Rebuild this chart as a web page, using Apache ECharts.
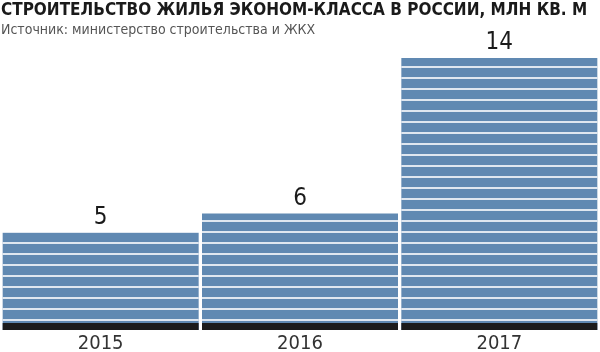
<!DOCTYPE html>
<html lang="ru">
<head>
    <meta charset="utf-8">
    <title>Строительство жилья эконом-класса</title>
    <script src="https://cdn.jsdelivr.net/npm/echarts@6/dist/echarts.min.js"></script>
    <style>
        html, body { margin: 0; padding: 0; background: #fff; }
        #main { width: 600px; height: 352px; }
    </style>
</head>
<body>
<div id="main"></div>
<script>
    // данные из графика
    var years = ['2015', '2016', '2017'];
    var values = [5, 6, 14];

    var FONT = "'Liberation Sans Narrow', 'DejaVu Sans Condensed', 'Roboto', sans-serif";
    var BASE = 0.36; // тёмная полоса внизу столбца

    var myChart = echarts.init(document.getElementById('main'));
    var option = {
        animation: false,
        title: {
            text: 'СТРОИТЕЛЬСТВО ЖИЛЬЯ ЭКОНОМ-КЛАССА В РОССИИ, МЛН КВ. М',
            subtext: 'Источник: министерство строительства и ЖКХ',
            left: -4,
            top: -3,
            itemGap: 4,
            textStyle: { fontFamily: FONT, fontSize: 17, fontWeight: 'bold', color: '#1a1a1a' },
            subtextStyle: { fontFamily: FONT, fontSize: 14, color: '#555' }
        },
        grid: { left: 1, right: 1, top: 58, bottom: 22, outerBoundsMode: 'none', containLabel: false },
        xAxis: {
            type: 'category',
            data: years,
            axisLine: { show: false },
            axisTick: { show: false },
            axisLabel: { fontFamily: FONT, fontSize: 20, color: '#333', margin: 4 }
        },
        yAxis: {
            type: 'value',
            min: 0,
            max: 14,
            show: false,
            splitLine: { show: false }
        },
        series: [{
            type: 'bar',
            data: values,
            barWidth: 196,
            itemStyle: {
                color: '#6089b2',
                decal: {
                    symbol: 'rect',
                    symbolSize: 1,
                    color: 'rgba(255,255,255,0.8)',
                    dashArrayX: [1, 0],
                    dashArrayY: [2, 9],
                    rotation: 0
                }
            },
            label: {
                show: true,
                position: 'top',
                distance: 3,
                fontFamily: FONT,
                fontSize: 24,
                color: '#1a1a1a'
            }
        }, {
            type: 'bar',
            data: years.map(function () { return BASE; }),
            barWidth: 196,
            barGap: '-100%',
            z: 3,
            itemStyle: { color: '#1c1c1c' },
            silent: true
        }]
    };
    myChart.setOption(option);
</script>
</body>
</html>
